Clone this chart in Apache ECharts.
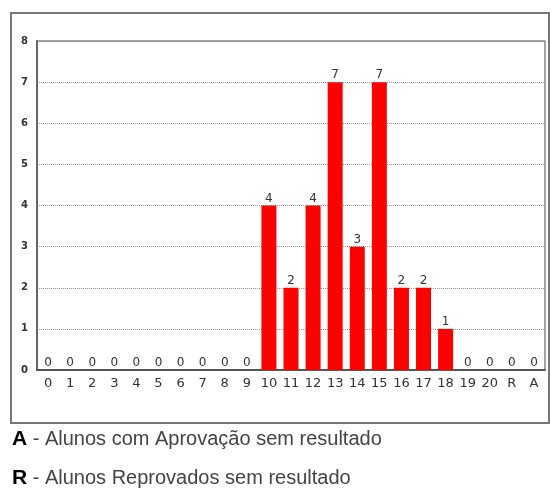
<!DOCTYPE html>
<html><head><meta charset="utf-8">
<script src="https://cdn.jsdelivr.net/npm/echarts@6/dist/echarts.min.js"></script>
<style>html,body{margin:0;padding:0;background:#fff}#c{width:550px;height:489px}</style>
</head><body><div id="c"></div>
<script>
const categories = ['0','1','2','3','4','5','6','7','8','9','10','11','12','13','14','15','16','17','18','19','20','R','A'];
const values = [0,0,0,0,0,0,0,0,0,0,4,2,4,7,3,7,2,2,1,0,0,0,0];
const yTicks = [0,1,2,3,4,5,6,7,8];
const notes = [['A',' - Alunos com Aprovação sem resultado'],['R',' - Alunos Reprovados sem resultado']];

const chart = echarts.init(document.getElementById('c'));
chart.setOption({
  animation:false,
  backgroundColor:'#fff',
  grid:{left:37,top:41,width:508,height:329,show:true,borderColor:'#444',borderWidth:1,backgroundColor:'transparent'},
  xAxis:{type:'category',data:categories,
    axisLine:{lineStyle:{color:'#555',width:2}},
    axisTick:{show:false},
    axisLabel:{interval:0,color:'#333',fontFamily:'DejaVu Sans',fontSize:13,margin:7}},
  yAxis:{type:'value',min:0,max:8,interval:1,
    axisLine:{show:true,lineStyle:{color:'#666',width:2}},
    axisTick:{show:false},
    axisLabel:{color:'#333',fontFamily:'DejaVu Sans',fontSize:10,fontWeight:'bold',margin:9,formatter:v=>yTicks.includes(v)?String(v):''},
    splitLine:{lineStyle:{color:'#999',type:[1,1],width:1}}},
  series:[{type:'bar',data:values,barWidth:15,
    itemStyle:{color:'#ff0000'},
    label:{show:true,position:'top',distance:1,color:'#333',fontFamily:'DejaVu Sans',fontSize:12}}],
  graphic:[
    {type:'rect',shape:{x:11,y:13,width:538,height:410},style:{fill:'none',stroke:'#777',lineWidth:2},z:-1},
    ...notes.map((n,i)=>({type:'text',left:12,top:429+i*39,style:{rich:{b:{fontFamily:'Liberation Sans',fontSize:21,fontWeight:'bold',fill:'#000'},t:{fontFamily:'Liberation Sans',fontSize:20,fill:'#444'}},text:'{b|'+n[0]+'}{t|'+n[1]+'}'}}))
  ]
});
</script></body></html>
